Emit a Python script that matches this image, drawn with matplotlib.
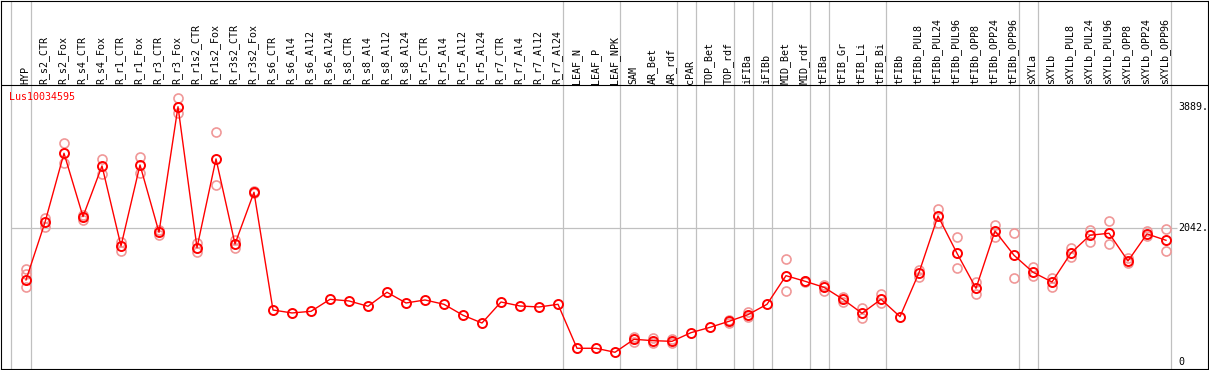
import matplotlib
matplotlib.use('Agg')
import matplotlib.pyplot as plt

# gene and samples
gene = 'Lus10034595'
samples = ['HYP', 'R_s2_CTR', 'R_s2_Fox', 'R_s4_CTR', 'R_s4_Fox', 'R_r1_CTR', 'R_r1_Fox',
           'R_r3_CTR', 'R_r3_Fox', 'R_r1s2_CTR', 'R_r1s2_Fox', 'R_r3s2_CTR', 'R_r3s2_Fox',
           'R_s6_CTR', 'R_s6_Al4', 'R_s6_Al12', 'R_s6_Al24', 'R_s8_CTR', 'R_s8_Al4',
           'R_s8_Al12', 'R_s8_Al24', 'R_r5_CTR', 'R_r5_Al4', 'R_r5_Al12', 'R_r5_Al24',
           'R_r7_CTR', 'R_r7_Al4', 'R_r7_Al12', 'R_r7_Al24', 'LEAF_N', 'LEAF_P', 'LEAF_NPK',
           'SAM', 'AR_Bet', 'AR_rdf', 'cPAR', 'TOP_Bet', 'TOP_rdf', 'iFIBa', 'iFIBb',
           'MID_Bet', 'MID_rdf', 'tFIBa', 'tFIB_Gr', 'tFIB_Li', 'tFIB_Bi', 'tFIBb',
           'tFIBb_PUL8', 'tFIBb_PUL24', 'tFIBb_PUL96', 'tFIBb_OPP8', 'tFIBb_OPP24',
           'tFIBb_OPP96', 'sXYLa', 'sXYLb', 'sXYLb_PUL8', 'sXYLb_PUL24', 'sXYLb_PUL96',
           'sXYLb_OPP8', 'sXYLb_OPP24', 'sXYLb_OPP96']

# mean expression per sample
means = [1250, 2129, 3180, 2215, 2987, 1768, 3002, 1976, 3889, 1742, 3094, 1798, 2586,
         792, 747, 772, 955, 930, 849, 1062, 899, 945, 879, 712, 594, 914, 853, 838, 879,
         209, 209, 148,
         346, 325, 315, 447, 528, 620, 721, 879, 1315, 1230, 1138, 955, 742, 955, 691,
         1361, 2225, 1656, 1123, 1996, 1626, 1367, 1219, 1661, 1931, 1961, 1539, 1951, 1854]

# individual replicates (empty where only one sample)
replicates = [[1413, 1336, 1138], [2190, 2062], [3333, 3028], [2240, 2164], [3089, 2860],
              [1824, 1692], [3129, 2875], [2012, 1935], [4018, 3790], [1809, 1672],
              [3500, 2693], [1859, 1742], [2600, 2570],
              [], [], [], [], [], [], [], [], [], [], [], [], [], [], [], [],
              [], [], [],
              [386, 310], [360, 295], [350, 290], [], [], [640, 600], [767, 690], [],
              [1565, 1082], [1240, 1220], [1173, 1087], [995, 910], [818, 666], [1036, 894], [],
              [1300, 1400], [2332, 2123], [1900, 1428], [1224, 1031], [2088, 1900],
              [1961, 1275], [1453, 1311], [1285, 1148], [1733, 1595], [2012, 1833],
              [2144, 1798], [1580, 1504], [1990, 1920], [2027, 1687]]

# group separators (after these sample indices)
group_ends = [0, 28, 31, 34, 35, 37, 38, 39, 41, 42, 45, 52, 53, 60]

# right-hand scale labels
scale_ticks = [3889, 2042, 0]
scale_labels = ['3889.', '2042.', '0']

W, H = 1209, 370
fig = plt.figure(figsize=(W / 100, H / 100), dpi=100)
ax = fig.add_axes([1 / W, 1 / H, 1207 / W, 368.5 / H])

# pixel mapping used to set limits
px_per_unit = 255.3 / 3889
y0_px = 362
x0_px, dx_px = 26, 19
ax.set_xlim((1 - x0_px) / dx_px, (1208 - x0_px) / dx_px)
ax.set_ylim((y0_px - 369) / px_per_unit, (y0_px - 0.5) / px_per_unit)
header_y = (y0_px - 85) / px_per_unit

for s in ax.spines.values():
    s.set_linewidth(0.8)
    s.set_color('black')
ax.set_xticks([])
ax.set_yticks([])

font = dict(family='DejaVu Sans Mono', fontsize=7.2)

# gray separators
grey = '#c0c0c0'
ax.axvline(-0.8, color=grey, lw=0.9, zorder=1)
for i in group_ends:
    ax.axvline(i + 0.25, color=grey, lw=0.9, zorder=1)
ax.hlines(2042, -0.8, 60.6, color=grey, lw=0.9, zorder=1)

# header separator
ax.axhline(header_y, color='black', lw=0.8, zorder=2)

# sample labels
for i, name in enumerate(samples):
    ax.text(i - 0.05, (y0_px - 83.5) / px_per_unit, name, rotation=90,
            ha='center', va='bottom', color='black', **font)

ax.text(-0.9, (y0_px - 97) / px_per_unit, gene, color='red', ha='left', va='center', **font)

for v, lab in zip(scale_ticks, scale_labels):
    ax.text(60.65, v, lab, ha='left', va='center', color='black', **font)

# replicates
for i, reps in enumerate(replicates):
    if reps:
        ax.plot([i] * len(reps), reps, 'o', mfc='none', mec='#f09898', ms=6.5, mew=1.2, zorder=3)

# mean line
x = list(range(len(samples)))
ax.plot(x, means, '-', color='red', lw=1.0, zorder=4)
ax.plot(x, means, 'o', mfc='none', mec='red', ms=6.5, mew=1.4, zorder=5)

fig.savefig('out.png', dpi=100)
